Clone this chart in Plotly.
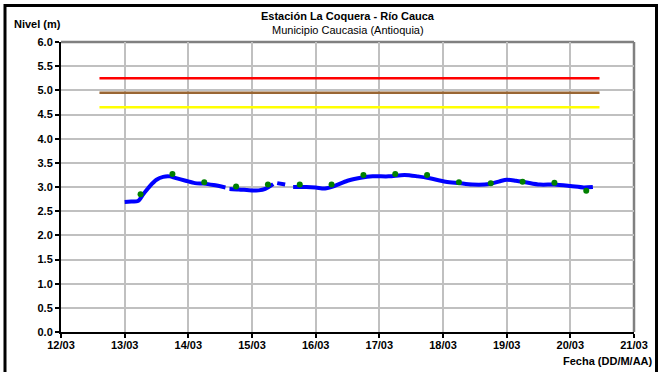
import plotly.graph_objects as go

# ---- data ----
level_times = [
    "2012-03-13 00:00", "2012-03-13 02:30", "2012-03-13 05:00", "2012-03-13 07:00",
    "2012-03-13 09:30", "2012-03-13 12:00", "2012-03-13 14:30", "2012-03-13 17:00",
    "2012-03-13 19:00", "2012-03-13 23:00", "2012-03-14 02:30", "2012-03-14 06:00",
    "2012-03-14 09:30", "2012-03-14 14:00", "2012-03-14 14:30", "2012-03-14 15:30",
    "2012-03-14 19:00", "2012-03-15 00:00", "2012-03-15 02:30", "2012-03-15 05:00",
    "2012-03-15 08:00", "2012-03-15 08:30", "2012-03-15 09:30", "2012-03-15 12:30",
    "2012-03-15 14:00", "2012-03-15 15:30", "2012-03-15 20:30", "2012-03-16 00:00",
    "2012-03-16 03:30", "2012-03-16 07:00", "2012-03-16 12:00", "2012-03-16 17:00",
    "2012-03-16 21:30", "2012-03-17 03:30", "2012-03-17 09:30", "2012-03-17 14:30",
    "2012-03-17 19:00", "2012-03-18 01:00", "2012-03-18 06:00", "2012-03-18 11:00",
    "2012-03-18 17:30", "2012-03-18 21:30", "2012-03-19 00:00", "2012-03-19 03:30",
    "2012-03-19 07:00", "2012-03-19 12:30", "2012-03-19 18:00", "2012-03-20 00:00",
    "2012-03-20 05:00", "2012-03-20 08:30",
]
level_values = [
    2.69, 2.70, 2.71, 2.85,
    3.02, 3.15, 3.21, 3.22,
    3.19, 3.13, 3.08, 3.07,
    3.04, 2.99, None, 2.96,
    2.95, 2.93, 2.93, 2.96,
    3.06, None, 3.08, 3.05,
    None, 3.00, 3.00, 2.99,
    2.97, 3.02, 3.13, 3.19,
    3.22, 3.22, 3.25, 3.22,
    3.18, 3.11, 3.08, 3.05,
    3.06, 3.12, 3.15, 3.13,
    3.10, 3.05, 3.05, 3.02,
    2.99, 3.00,
]

obs_times = [
    "2012-03-13 06:00", "2012-03-13 18:00", "2012-03-14 06:00", "2012-03-14 18:00",
    "2012-03-15 06:00", "2012-03-15 18:00", "2012-03-16 06:00", "2012-03-16 18:00",
    "2012-03-17 06:00", "2012-03-17 18:00", "2012-03-18 06:00", "2012-03-18 18:00",
    "2012-03-19 06:00", "2012-03-19 18:00", "2012-03-20 06:00",
]
obs_values = [2.85, 3.27, 3.10, 3.01, 3.05, 3.05, 3.05, 3.25,
              3.27, 3.25, 3.10, 3.08, 3.11, 3.09, 2.92]

threshold_span = ["2012-03-12 14:30", "2012-03-20 11:00"]
threshold_red = 5.25
threshold_brown = 4.95
threshold_yellow = 4.65

x_range = ["2012-03-12", "2012-03-21"]
y_range = [0, 6]

# ---- figure ----
FONT = "Liberation Sans, Arial, sans-serif"
fig = go.Figure()

for val, col in [(threshold_red, "#FF0000"), (threshold_brown, "#996633"),
                 (threshold_yellow, "#FFFF00")]:
    fig.add_trace(go.Scatter(x=threshold_span, y=[val, val], mode="lines",
                             line=dict(color=col, width=2.5), hoverinfo="skip"))

fig.add_trace(go.Scatter(x=level_times, y=level_values, mode="lines",
                         line=dict(color="#0000FF", width=4, shape="spline", smoothing=0.8),
                         connectgaps=False))
fig.add_trace(go.Scatter(x=obs_times, y=obs_values, mode="markers",
                         marker=dict(color="#008000", size=6)))

L, R, T, B = 61, 634, 42, 331.7
W, H = 663, 372
pw, ph = R - L, B - T

def px(x):
    return (x - L) / pw

def py(y):
    return (B - y) / ph

fig.update_layout(
    width=W, height=H,
    margin=dict(l=L, r=W - R, t=T, b=H - B),
    paper_bgcolor="white", plot_bgcolor="white",
    showlegend=False,
    font=dict(family=FONT, size=11, color="black"),
    xaxis=dict(
        type="date", range=x_range, dtick=86400000, tickformat="%d/%m",
        showgrid=True, gridcolor="#C0C0C0", gridwidth=1.5,
        showline=True, linecolor="black", linewidth=2,
        ticks="outside", ticklen=4, tickcolor="black", tickwidth=1.5,
        ticklabelstandoff=-2,
        tickfont=dict(family=FONT, size=11, color="black", weight="bold"),
        zeroline=False, fixedrange=True,
    ),
    yaxis=dict(
        range=y_range, dtick=0.5, tickformat=".1f",
        showgrid=True, gridcolor="#C0C0C0", gridwidth=1.5,
        showline=True, linecolor="black", linewidth=2,
        ticks="outside", ticklen=4, tickcolor="black", tickwidth=1.5,
        tickfont=dict(family=FONT, size=11, color="black", weight="bold"),
        zeroline=False, fixedrange=True,
    ),
    shapes=[
        dict(type="line", xref="paper", yref="paper", x0=0, x1=1, y0=1, y1=1,
             line=dict(color="#808080", width=2.5), layer="below"),
        dict(type="line", xref="paper", yref="paper", x0=1, x1=1, y0=0, y1=1,
             line=dict(color="#808080", width=2.5), layer="below"),
        dict(type="rect", xref="paper", yref="paper",
             x0=px(5), x1=px(656.5), y0=py(380), y1=py(5.5),
             line=dict(color="black", width=3)),
    ],
    annotations=[
        dict(text="<b>Estación La Coquera - Río Cauca</b>", xref="paper", yref="paper",
             x=0.5, y=py(16), xanchor="center", yanchor="middle", showarrow=False,
             font=dict(family=FONT, size=11, color="black")),
        dict(text="Municipio Caucasia (Antioquia)", xref="paper", yref="paper",
             x=0.5, y=py(30), xanchor="center", yanchor="middle", showarrow=False,
             font=dict(family=FONT, size=11, color="black")),
        dict(text="<b>Nivel (m)</b>", xref="paper", yref="paper",
             x=px(12), y=py(24), xanchor="left", yanchor="middle", showarrow=False,
             font=dict(family=FONT, size=11, color="black")),
        dict(text="<b>Fecha (DD/M/AA)</b>", xref="paper", yref="paper",
             x=px(655), y=py(361), xanchor="right", yanchor="middle", showarrow=False,
             font=dict(family=FONT, size=11, color="black")),
    ],
)

fig.write_html("out.html", config={"displayModeBar": False},
               post_script="document.body.style.margin='0';document.body.style.overflow='hidden';")
